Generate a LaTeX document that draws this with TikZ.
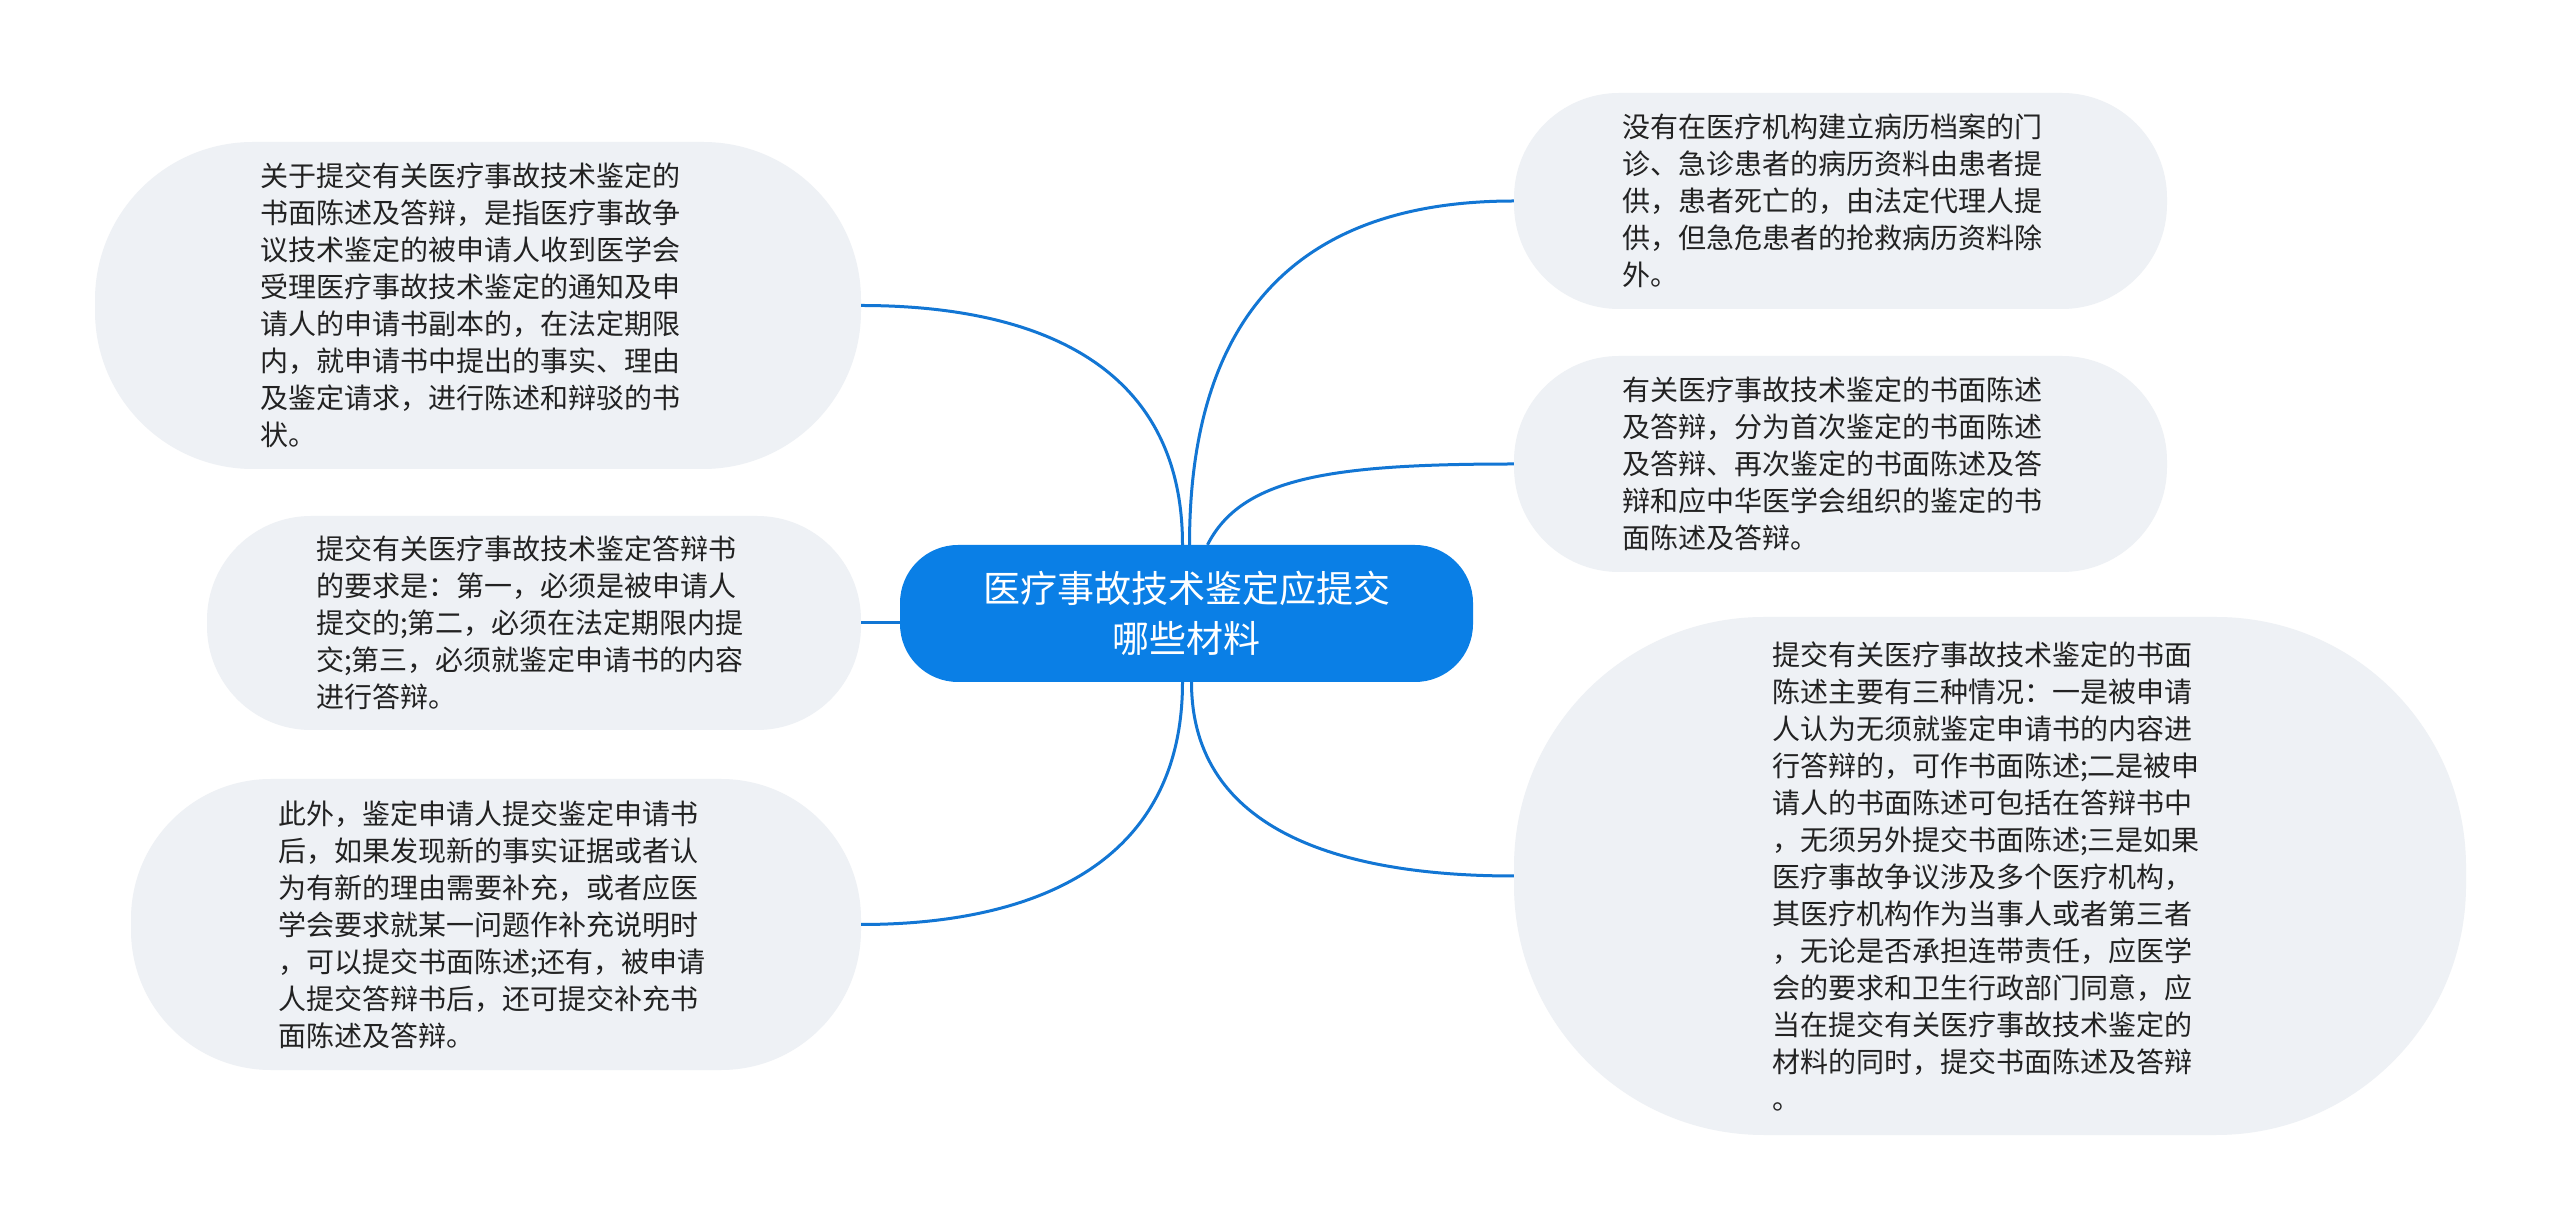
\documentclass[tikz,border=0pt]{standalone}
\usepackage{fontspec}
\newfontfamily\cjkfont{Noto Sans CJK SC}
\usepackage{xcolor}
\definecolor{Dodger}{RGB}{10, 127, 230}
\definecolor{Lochmara}{RGB}{18, 118, 212}
\definecolor{Athens Gray}{RGB}{238, 241, 245}
\definecolor{Mine Shaft}{RGB}{34, 34, 34}

\tikzset{
	hoja/.style={fill=Athens Gray, text=Mine Shaft, inner sep=0pt, text width=436pt, align=left,
		font=\cjkfont\fontsize{28pt}{37pt}\selectfont},
	raiz/.style={fill=Dodger, text=white, inner sep=0pt, align=center, minimum width=573pt,
		minimum height=137pt, rounded corners=58pt, font=\cjkfont\fontsize{37pt}{50pt}\selectfont},
	rama/.style={draw=Lochmara, line width=3pt}
}

\begin{document}
\begin{tikzpicture}[x=1pt, y=1pt]
	% Fondo y margenes del mapa
	\fill[white] (0,0) rectangle (2560,1227);
	\useasboundingbox (0,0) rectangle (2560,1227);

	% Nodo central
	\node[raiz] (hub) at (1186.5,613.5) {医疗事故技术鉴定应提交\\哪些材料};

	% Hojas de la izquierda
	\node[hoja, minimum width=766pt, minimum height=327pt, rounded corners=158pt] (izq1) at (478,921.5)
		{关于提交有关医疗事故技术鉴定的\\书面陈述及答辩，是指医疗事故争\\议技术鉴定的被申请人收到医学会\\受理医疗事故技术鉴定的通知及申\\请人的申请书副本的，在法定期限\\内，就申请书中提出的事实、理由\\及鉴定请求，进行陈述和辩驳的书\\状。};
	\node[hoja, minimum width=654pt, minimum height=214pt, rounded corners=104pt] (izq2) at (534,604)
		{提交有关医疗事故技术鉴定答辩书\\的要求是：第一，必须是被申请人\\提交的;第二，必须在法定期限内提\\交;第三，必须就鉴定申请书的内容\\进行答辩。};
	\node[hoja, minimum width=730pt, minimum height=291pt, rounded corners=140pt] (izq3) at (496,302.5)
		{此外，鉴定申请人提交鉴定申请书\\后，如果发现新的事实证据或者认\\为有新的理由需要补充，或者应医\\学会要求就某一问题作补充说明时\\，可以提交书面陈述;还有，被申请\\人提交答辩书后，还可提交补充书\\面陈述及答辩。};

	% Hojas de la derecha
	\node[hoja, minimum width=653pt, minimum height=216pt, rounded corners=105pt] (der1) at (1840.5,1026)
		{没有在医疗机构建立病历档案的门\\诊、急诊患者的病历资料由患者提\\供，患者死亡的，由法定代理人提\\供，但急危患者的抢救病历资料除\\外。};
	\node[hoja, minimum width=653pt, minimum height=216pt, rounded corners=105pt] (der2) at (1840.5,763)
		{有关医疗事故技术鉴定的书面陈述\\及答辩，分为首次鉴定的书面陈述\\及答辩、再次鉴定的书面陈述及答\\辩和应中华医学会组织的鉴定的书\\面陈述及答辩。};
	\node[hoja, minimum width=952pt, minimum height=518pt, rounded corners=250pt] (der3) at (1990,351)
		{提交有关医疗事故技术鉴定的书面\\陈述主要有三种情况：一是被申请\\人认为无须就鉴定申请书的内容进\\行答辩的，可作书面陈述;二是被申\\请人的书面陈述可包括在答辩书中\\，无须另外提交书面陈述;三是如果\\医疗事故争议涉及多个医疗机构，\\其医疗机构作为当事人或者第三者\\，无论是否承担连带责任，应医学\\会的要求和卫生行政部门同意，应\\当在提交有关医疗事故技术鉴定的\\材料的同时，提交书面陈述及答辩\\。};

	% Ramas
	\draw[rama] ([xshift=-4pt]hub.north) .. controls +(90:190) and +(0:160) .. (izq1.east);
	\draw[rama] (izq2.east) -- (izq2.east -| hub.west);
	\draw[rama] ([xshift=-4pt]hub.south) .. controls +(-90:190) and +(0:160) .. (izq3.east);
	\draw[rama] ([xshift=3pt]hub.north) .. controls +(90:222) and +(180:222) .. (der1.west);
	\draw[rama] ([xshift=21pt]hub.north) .. controls +(63:75) and +(180:185) .. (der2.west);
	\draw[rama] ([xshift=5pt]hub.south) .. controls +(-90:150) and +(180:170) .. (der3.west);
\end{tikzpicture}
\end{document}
